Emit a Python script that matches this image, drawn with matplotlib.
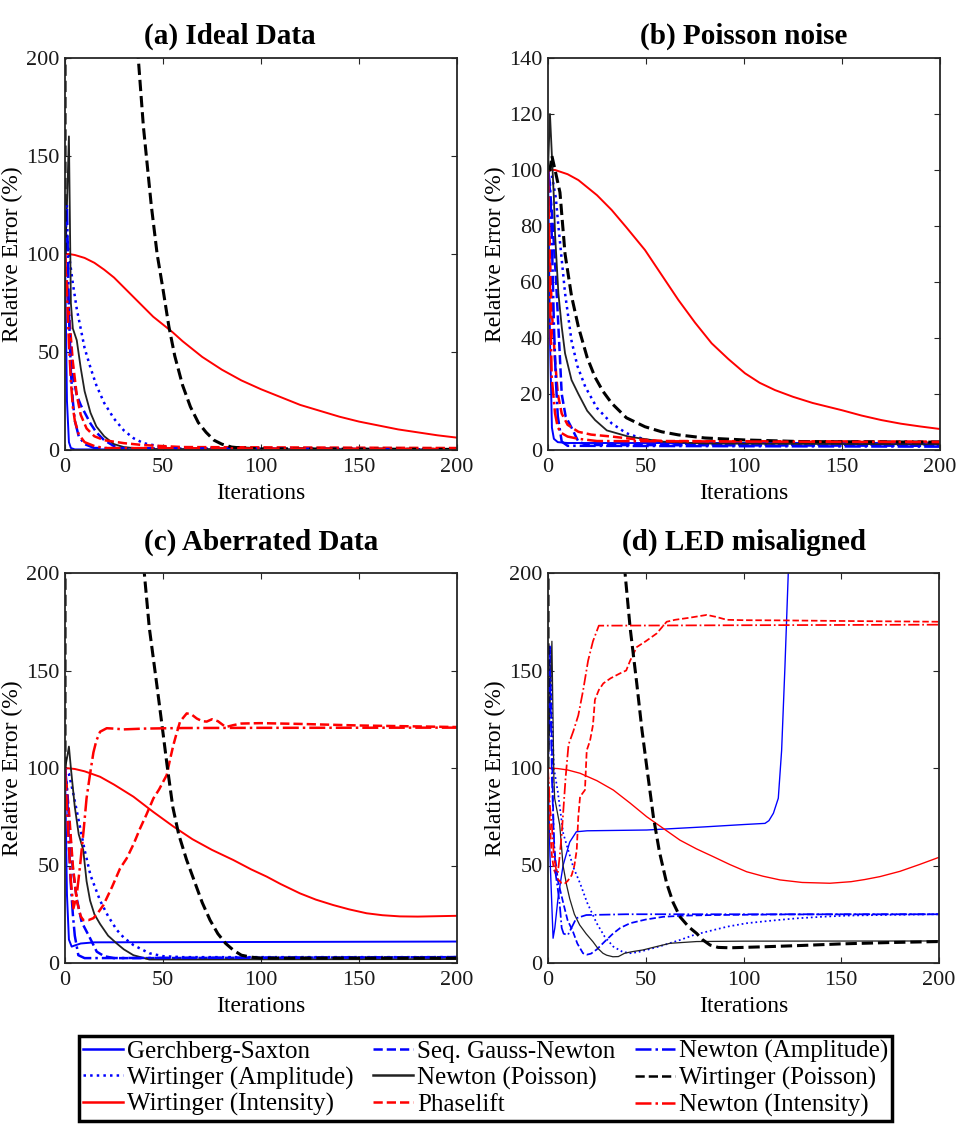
import matplotlib.pyplot as plt
from matplotlib.lines import Line2D

plt.rcParams['font.family'] = ['Liberation Serif', 'DejaVu Serif']

methods = ['Gerchberg-Saxton', 'Wirtinger (Amplitude)', 'Wirtinger (Intensity)',
           'Seq. Gauss-Newton', 'Newton (Poisson)', 'Phaselift',
           'Newton (Amplitude)', 'Wirtinger (Poisson)', 'Newton (Intensity)']

titles = ['(a) Ideal Data', '(b) Poisson noise', '(c) Aberrated Data', '(d) LED misaligned']
x_ticks = [0, 50, 100, 150, 200]
y_ticks_200 = [0, 50, 100, 150, 200]
y_ticks_140 = [0, 20, 40, 60, 80, 100, 120, 140]

# (iteration, relative error %)
# --- (a) ideal data
ideal_gs = [(0, 100), (1, 25), (2, 4), (3, 1), (5, 0.3), (200, 0.2)]
ideal_wa = [(0, 100), (1, 110), (2, 100), (4, 85), (6, 72), (8, 62), (10, 52), (13, 42), (16, 33),
            (20, 24), (25, 16), (30, 10), (35, 6), (40, 3.5), (50, 1.5), (60, 0.8), (200, 0.3)]
ideal_wi = [(0, 100), (2, 100), (5, 99.5), (10, 98), (15, 95.5), (20, 92), (25, 88), (30, 83), (35, 78),
            (40, 73), (45, 68), (50, 64), (55, 60), (60, 55.5), (70, 47.5), (80, 41), (90, 35.5),
            (100, 31), (110, 27), (120, 23), (130, 20), (140, 17), (150, 14.5), (160, 12.5),
            (170, 10.5), (180, 9), (190, 7.5), (200, 6.3)]
ideal_sgn = [(0, 100), (2, 70), (4, 38), (6, 28), (8, 23), (13, 13.5), (16, 9), (20, 5), (25, 2),
             (30, 0.8), (200, 0.3)]
ideal_np = [(0, 100), (1, 125), (2, 160), (3, 75), (4, 62), (6, 56), (8, 42), (10, 30), (13, 19),
            (16, 12), (20, 7), (25, 3), (30, 1.5), (40, 0.5), (200, 0.2)]
ideal_pl = [(0, 100), (1, 85), (2, 70), (4, 45), (6, 28), (8, 18), (11, 11), (15, 7), (20, 5),
            (30, 3.5), (40, 2.5), (60, 1.5), (200, 1)]
ideal_na = [(0, 100), (1, 125), (2, 70), (3, 40), (4, 25), (5, 15), (7, 7), (10, 3), (15, 1), (200, 0.3)]
ideal_wp = [(0, 100), (1, 3000), (10, 1600), (20, 800), (30, 380), (37, 205), (40, 165), (44, 125),
            (47, 100), (50, 82), (53, 63), (56, 48), (60, 33), (64, 22), (68, 14), (72, 9), (76, 5),
            (80, 3), (85, 1.5), (90, 1), (100, 0.6), (200, 0.3)]
ideal_ni = [(0, 100), (1, 80), (2, 55), (3, 35), (4, 22), (5, 15), (7, 8), (10, 4), (15, 2), (20, 1),
            (200, 0.5)]

# --- (b) poisson noise
poisson_gs = [(0, 100), (1, 40), (2, 8), (3, 4), (5, 2.8), (10, 2.5), (200, 2.5)]
poisson_wa = [(0, 100), (2, 98), (4, 90), (5.3, 80), (7, 68), (8.7, 56), (12, 39), (15, 30), (19, 22.6),
              (25, 15), (32.5, 9.5), (40, 6), (50, 3.6), (60, 2.5), (80, 2), (200, 1.8)]
poisson_wi = [(0, 100), (3.6, 100), (10, 98.5), (15.5, 96.4), (25, 91), (32.5, 85.7), (40, 79.5),
              (49.5, 71.4), (58, 62.5), (66.5, 53.6), (75, 45.5), (83.5, 38.1), (92, 32.5),
              (100.5, 27.4), (108, 24), (115.8, 21.4), (125, 19), (135, 16.8), (150, 14.2),
              (160, 12.3), (170, 10.7), (180, 9.4), (190, 8.4), (200, 7.5)]
poisson_sgn = [(0, 100), (2, 85), (4, 62), (5.3, 44), (7, 20), (9, 12), (12, 8), (15.5, 3), (20, 1.8),
               (200, 1.5)]
poisson_np = [(0, 100), (1, 120), (2, 105), (3, 90), (3.6, 77), (5.3, 56), (7, 44), (8.7, 34.5),
              (12, 25), (15.5, 20), (20, 14), (24, 10.7), (30, 7), (41, 4.8), (58, 3), (80, 2.3),
              (200, 2)]
poisson_pl = [(0, 100), (1, 70), (1.9, 50), (3.6, 32), (5, 20), (7, 13), (10, 9), (15.5, 6.5),
              (22, 5.5), (32.5, 4.8), (45, 3.8), (60, 3.2), (200, 3)]
poisson_na = [(0, 100), (1, 95), (2, 75), (3, 45), (4, 25), (5, 12), (7, 3), (10, 1.5), (200, 1.2)]
poisson_wp = [(0, 100), (1, 100), (2, 105), (3.6, 100), (6.1, 92), (8.7, 70), (12, 55), (15.5, 44),
              (20, 33), (24, 26), (28, 21), (32.5, 16.7), (40, 11.5), (49.5, 8.3), (58, 6.5),
              (66.5, 5.4), (80, 4.3), (100, 3.6), (130, 3), (200, 2.8)]
poisson_ni = [(0, 100), (1, 55), (1.9, 26), (3.6, 13), (5, 8), (7, 6), (10, 4.8), (15.5, 4), (25, 3.2),
              (200, 2.8)]

# --- (c) aberrated data
aberr_gs = [(0, 100), (1, 35), (2, 12), (3.4, 8.4), (5, 9), (8, 10), (15, 10.6), (200, 11)]
aberr_wa = [(0, 100), (2, 97), (4, 88), (6, 78), (8, 68), (10, 58), (13, 45), (17.9, 32), (22, 24),
            (26.4, 17), (30, 13), (34.9, 9.2), (43, 5), (50, 3.5), (60, 3), (200, 3)]
aberr_wi = [(0, 100), (5, 99.5), (10, 98.3), (17.9, 95.5), (25, 91.5), (34.9, 85.3), (45, 77.5),
            (55.3, 70), (65, 63.5), (75, 58), (85.9, 52.8), (95, 48), (102.9, 44.3), (110, 40.5),
            (119.9, 35.7), (128, 32.5), (136.9, 29.7), (145, 27.5), (153.9, 25.5), (162, 24.5),
            (170.9, 23.9), (180, 23.8), (190, 24), (200, 24.2)]
aberr_sgn = [(0, 100), (2, 75), (4, 48), (6, 33), (8.5, 21), (12.8, 12.7), (16.2, 5.8), (20, 3.5),
             (25, 2.5), (40, 2.5), (200, 3)]
aberr_np = [(0, 100), (1, 105), (2, 111), (3, 100), (5, 80), (7, 66), (9.3, 58), (11, 42), (12.8, 32),
            (15, 25), (17.9, 20), (22, 14), (26.4, 10), (30, 7), (34.9, 4), (43, 1.8), (60, 1.8),
            (200, 2)]
aberr_pl = [(0, 100), (2, 78), (4, 50), (6, 32), (8, 24), (9.3, 22), (12, 22), (14.5, 23), (17, 26),
            (19.6, 29.7), (24, 39), (28.1, 48.5), (31.5, 53.7), (35, 61), (38.3, 69), (41.5, 76),
            (45.1, 84.4), (48, 89), (51.9, 96.4), (53.5, 104), (55.3, 111.8), (57, 118),
            (58.7, 123.8), (62.1, 128), (64.5, 127.5), (67.2, 125.4), (70, 124), (72.3, 123.8),
            (75, 125), (78, 124), (82, 121), (86, 122), (90, 122.8), (100, 123), (120, 122.6),
            (150, 121.8), (200, 121)]
aberr_na = [(0, 100), (1, 90), (2, 60), (3, 40), (4, 25), (5, 14), (6.8, 4), (10, 2.5), (200, 3)]
aberr_wp = [(0, 100), (1, 4000), (10, 2000), (20, 1000), (30, 450), (40, 205), (43, 172), (46.8, 143),
            (50, 118), (52, 102), (55, 80), (58, 66), (62, 53), (66, 42), (70, 31), (74, 22),
            (78, 15), (82, 10), (86, 6.5), (90, 4), (95, 3), (100, 2.5), (200, 2.5)]
aberr_ni = [(0, 100), (1, 80), (2, 60), (3, 42), (4.3, 28), (6, 35), (7.7, 50), (9.5, 68), (11, 84.5),
            (12.8, 97), (14.5, 108), (16, 114), (17.9, 118.6), (21.3, 120.4), (25, 120.2),
            (30, 119.8), (40, 120.2), (60, 120.5), (100, 120.6), (200, 120.7)]

# --- (d) LED misaligned
led_gs = [(0, 100), (1, 55), (2.6, 12.7), (3.5, 18), (5.1, 33), (7.7, 50), (11.1, 62), (14.5, 67.3),
          (20, 67.8), (50.5, 68.2), (80, 69.8), (100, 71), (111, 71.6), (113, 73), (115.3, 76.8),
          (117.8, 84.5), (119.5, 109), (121.2, 152), (122.9, 200), (124, 260)]
led_wa = [(0, 100), (1, 163), (2, 130), (3, 100), (5, 88), (7.8, 66.5), (10, 59), (13, 49),
          (16.4, 40.9), (20, 31), (24.9, 20.4), (29, 13.5), (33.4, 8.4), (38, 5.8), (42, 5), (46, 5.6),
          (50.5, 6.7), (58, 8.8), (67.5, 11.8), (75, 14.5), (84.6, 16.9), (92, 18.7), (101.6, 20.4),
          (115, 21.8), (127.2, 22.9), (140, 23.7), (152.8, 24.3), (175, 24.7), (200, 25)]
led_wi = [(0, 100), (5, 99.7), (10, 99), (16.4, 97.3), (25, 93.5), (33.4, 88.7), (42, 82), (50.5, 75),
          (59, 69), (67.5, 63), (76, 58.5), (84.6, 54.5), (93, 50.5), (101.6, 46.8), (110, 44.5),
          (118.7, 42.6), (130, 41.3), (144.2, 40.9), (155, 41.7), (162, 42.8), (169.8, 44.3),
          (180, 47), (190, 50.5), (200, 54.2)]
led_sgn = [(0, 100), (1, 162), (2, 110), (3, 60), (5.1, 42), (8, 30), (10, 22), (12.8, 16), (15, 10),
           (17.9, 5), (20, 4.3), (22, 4.8), (25, 7), (29, 11), (33.4, 15.2), (37, 18), (42, 20.4),
           (50, 22.3), (59, 23.7), (70, 24.3), (84.6, 24.6), (120, 24.9), (200, 25)]
led_np = [(0, 100), (1, 130), (2, 165), (3, 95), (3.4, 84.5), (6, 70.8), (7.7, 50), (9.5, 40),
          (11.1, 33), (13.5, 25), (16.2, 19.5), (19.5, 15), (23, 10.9), (25.5, 7.5), (28.1, 5),
          (30, 4), (33.2, 3.2), (36, 3.3), (39.2, 5), (43, 5.8), (48.6, 6.7), (55, 8.3), (62.4, 10.1),
          (70, 10.6), (76, 11), (100, 11.2), (200, 11.3)]
led_pl = [(0, 100), (1, 70), (2, 55), (3, 48), (5, 43), (7, 41), (8.7, 40.9), (10, 42), (12.1, 45),
          (13.5, 50), (14.7, 58), (15.5, 75), (16.4, 85.3), (18.9, 88.7), (19.8, 109), (21.5, 114),
          (23, 122), (24, 135), (26, 140), (28.3, 143.4), (32, 146), (36.8, 148.5), (40, 150),
          (42, 155), (45.4, 162), (50, 165), (55.6, 169), (60.7, 175), (65, 176), (72, 177),
          (81.2, 178.5), (86, 177.5), (91.4, 176), (100, 175.8), (120, 175.7), (150, 175.4),
          (200, 175)]
led_na = [(0, 100), (1, 150), (2, 95), (3, 65), (4, 45), (5, 38), (6, 30), (7, 18), (8, 15),
          (10.2, 14.4), (12, 18), (14.5, 23), (19.6, 24.6), (40, 25), (200, 25)]
led_wp = [(0, 100), (1, 3500), (10, 1800), (20, 850), (30, 420), (39.4, 200), (42, 172), (45.4, 143.4),
          (48, 120), (50.5, 100.7), (53.9, 75), (57, 57), (60.7, 40.9), (64, 31), (67.5, 23.7),
          (72, 18.5), (76, 15.2), (79, 12), (82.9, 9.2), (87, 8), (93, 7.8), (110, 8.3), (130, 9),
          (150, 9.8), (175, 10.5), (200, 11)]
led_ni = [(0, 100), (1, 80), (2, 70), (3, 55), (4.3, 47), (5, 46), (6, 55), (7, 66), (9, 95),
          (10.5, 112), (13, 119), (15.5, 127), (18, 140), (20.5, 155), (23, 165), (26, 173),
          (200, 173.5)]

panels = [
    [ideal_gs, ideal_wa, ideal_wi, ideal_sgn, ideal_np, ideal_pl, ideal_na, ideal_wp, ideal_ni],
    [poisson_gs, poisson_wa, poisson_wi, poisson_sgn, poisson_np, poisson_pl, poisson_na, poisson_wp, poisson_ni],
    [aberr_gs, aberr_wa, aberr_wi, aberr_sgn, aberr_np, aberr_pl, aberr_na, aberr_wp, aberr_ni],
    [led_gs, led_wa, led_wi, led_sgn, led_np, led_pl, led_na, led_wp, led_ni],
]
y_limits = [200, 140, 200, 200]

# colour, linestyle, base width
styles = [
    ('#0000ff', '-', 1.4),
    ('#0000ff', ':', 1.8),
    ('#ff0000', '-', 1.4),
    ('#0000ff', '--', 1.8),
    ('#222222', '-', 1.3),
    ('#ff0000', '--', 1.8),
    ('#0000ff', '-.', 1.8),
    ('#000000', '--', 2.2),
    ('#ff0000', '-.', 1.8),
]

fig = plt.figure(figsize=(9.62, 11.25), dpi=100)
W, H = 962.0, 1125.0
boxes = [(65, 58, 392, 392), (548, 58, 392, 392), (65, 573, 392, 390), (548, 573, 391, 390)]

for k, (bx, by, bw, bh) in enumerate(boxes):
    ax = fig.add_axes([bx / W, 1 - (by + bh) / H, bw / W, bh / H])
    thin = 0.7 if k == 3 else 1.0
    for j, series in enumerate(panels[k]):
        xs = [p[0] for p in series]
        ys = [p[1] for p in series]
        c, ls, lw = styles[j]
        if j != 7:
            lw = lw * thin
        ax.plot(xs, ys, color=c, linestyle=ls, linewidth=lw)
    ax.set_xlim(0, 200)
    ax.set_ylim(0, y_limits[k])
    ax.set_xticks(x_ticks)
    ax.set_yticks(y_ticks_140 if y_limits[k] == 140 else y_ticks_200)
    ax.tick_params(direction='in', top=True, right=True, length=4, width=0.8,
                   labelsize=16, colors='#262626')
    ax.tick_params(axis='x', pad=6)
    ax.tick_params(axis='y', pad=4)
    ax.tick_params(labelcolor='#1a1a1a')
    for s in ax.spines.values():
        s.set_linewidth(1.3)
        s.set_color('#262626')
    ax.set_xlabel('Iterations', fontsize=17, labelpad=4)
    ax.set_ylabel('Relative Error (%)', fontsize=17, labelpad=2)
    tx = 0.42 if k == 0 else 0.5
    ax.set_title(titles[k], fontsize=21, fontweight='bold', x=tx, pad=10 if k < 2 else 17)

handles = [Line2D([], [], color=c, linestyle=ls, linewidth=1.8) for c, ls, lw in styles]
leg = fig.legend(handles, methods, ncol=3, loc='center', bbox_to_anchor=(485.5 / W, 1 - 1078.5 / H),
                 fontsize=18, frameon=True, fancybox=False, edgecolor='black', framealpha=1,
                 handlelength=1.6, handletextpad=0.15, columnspacing=0.8, labelspacing=0.15,
                 borderpad=0.15, borderaxespad=0)
leg.get_frame().set_linewidth(2.5)

fig.savefig('out.png', dpi=100)
